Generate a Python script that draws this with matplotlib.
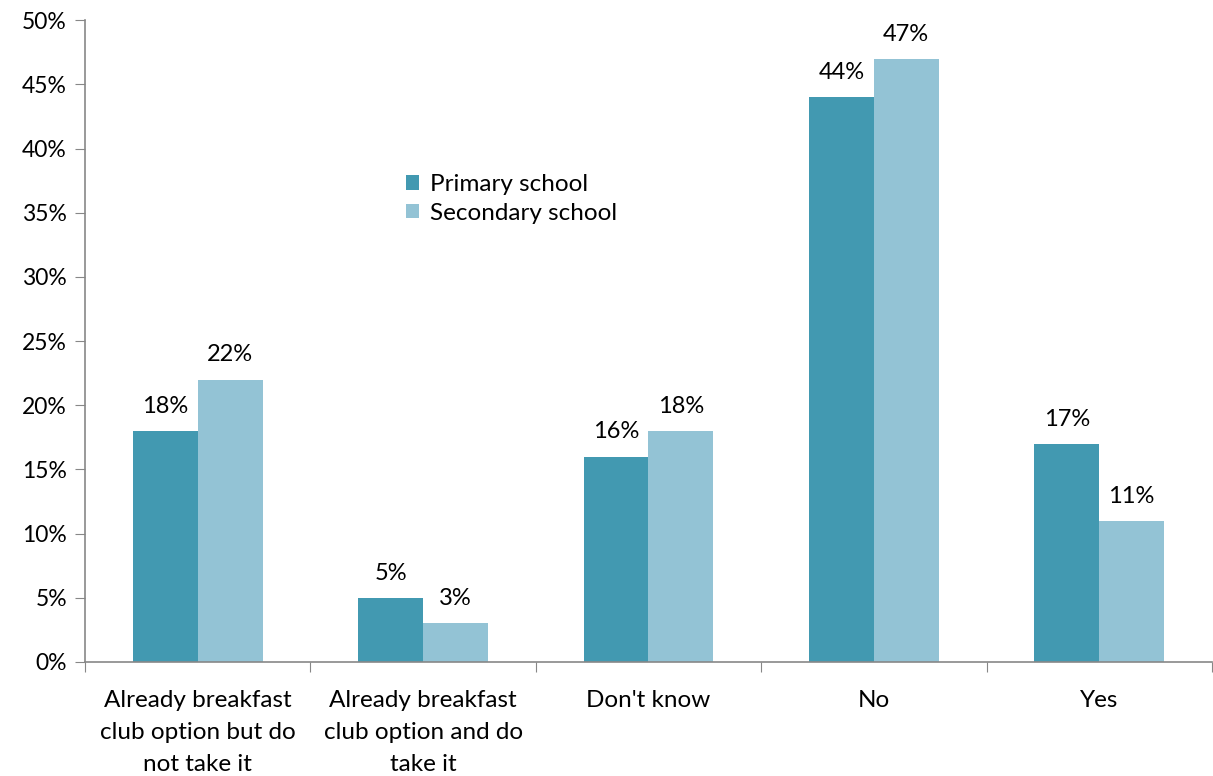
import matplotlib
matplotlib.use("Agg")
import matplotlib.pyplot as plt
import numpy as np

# data
categories = ["Already breakfast\nclub option but do\nnot take it",
              "Already breakfast\nclub option and do\ntake it",
              "Don't know", "No", "Yes"]
primary = [18, 5, 16, 44, 17]
secondary = [22, 3, 18, 47, 11]
series_names = ["Primary school", "Secondary school"]

plt.rcParams['font.family'] = ['Lato', 'DejaVu Sans']
plt.rcParams['font.size'] = 17

col_p = "#4299b1"
col_s = "#93c3d5"
grey = "#878787"

fig = plt.figure(figsize=(12.13, 7.76), dpi=100)
ax = fig.add_axes([0.0701, 0.147, 0.929, 0.827])

x = np.arange(len(categories))
w = 0.2875
b1 = ax.bar(x - w/2, primary, w, color=col_p, label=series_names[0])
b2 = ax.bar(x + w/2, secondary, w, color=col_s, label=series_names[1])

for bars in (b1, b2):
    for r in bars:
        ax.text(r.get_x() + r.get_width()/2, r.get_height() + 1.1,
                "%d%%" % r.get_height(), ha="center", va="bottom", fontsize=17)

ax.set_xlim(-0.5, 4.5)
ax.set_ylim(0, 50)
ax.set_yticks(np.arange(0, 51, 5))
ax.set_yticklabels(["%d%%" % v for v in range(0, 51, 5)], fontsize=16.5)

# category ticks on the boundaries
ax.set_xticks(np.arange(-0.5, 5, 1))
ax.set_xticklabels([])
ax.set_xticks(x, minor=True)
ax.set_xticklabels(categories, minor=True, linespacing=1.65, fontsize=17.5)
ax.tick_params(axis="x", which="minor", length=0, pad=20)
ax.tick_params(axis="x", which="major", length=7, color=grey, direction="out")
ax.tick_params(axis="y", length=7, color=grey, direction="out", pad=6)

for s in ["top", "right"]:
    ax.spines[s].set_visible(False)
for s in ["left", "bottom"]:
    ax.spines[s].set_color(grey)
    ax.spines[s].set_linewidth(1.2)

ax.legend(loc="upper left", bbox_to_anchor=(0.2655, 0.794), frameon=False,
          handlelength=0.55, handleheight=0.55, handletextpad=0.45,
          labelspacing=0.3, fontsize=17.5)

fig.savefig("out.png", dpi=100)
